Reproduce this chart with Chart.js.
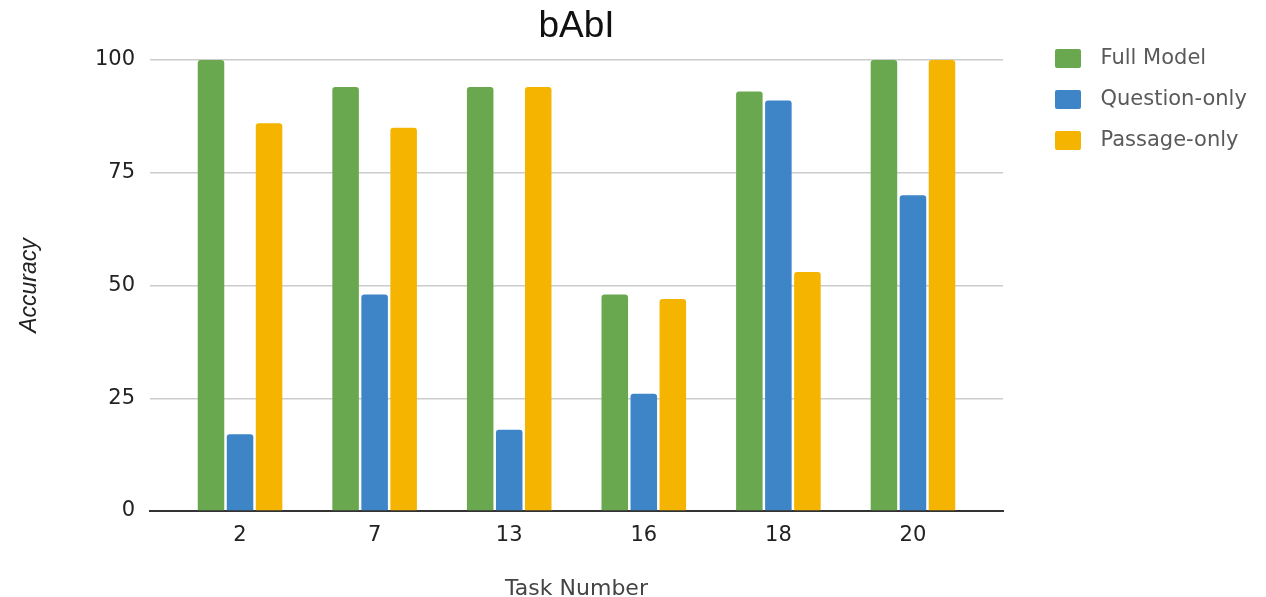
<!DOCTYPE html>
<html>
<head>
<meta charset="utf-8">
<title>bAbI</title>
<script src="https://cdn.jsdelivr.net/npm/chart.js@4.4.1/dist/chart.umd.min.js"></script>
<style>
  html, body { margin: 0; padding: 0; background: #ffffff; }
  #wrap { width: 1266px; height: 597px; position: relative; }
</style>
</head>
<body>
<div id="wrap"><canvas id="chart"></canvas></div>
<script>
// Task numbers shown along the x axis
const taskNumbers = ['2', '7', '13', '16', '18', '20'];

// Accuracy per task for each model variant
const fullModel    = [100, 94, 94, 48, 93, 100];
const questionOnly = [17, 48, 18, 26, 91, 70];
const passageOnly  = [86, 85, 94, 47, 53, 100];

// Value-axis ticks
const accuracyTicks = [0, 25, 50, 75, 100];

const seriesNames = ['Full Model', 'Question-only', 'Passage-only'];
const seriesColors = ['#6aa84f', '#3d85c6', '#f4b400'];

// Legend layout
const LEGEND_FONT = { family: '"DejaVu Sans", sans-serif', size: 21 };
const LEGEND_PAD = 20;
const SWATCH_W = 26, SWATCH_H = 19, SWATCH_INSET = 32, SWATCH_GAP = 9;
const SWATCH_SLOT = SWATCH_INSET + SWATCH_W + SWATCH_GAP;
const PLOT_RIGHT = 1003;
const CANVAS_W = 1266;

// Legend swatch: a rounded box placed inside a wider slot
function makeSwatch(color) {
  const c = document.createElement('canvas');
  c.width = SWATCH_SLOT;
  c.height = SWATCH_H;
  const g = c.getContext('2d');
  g.fillStyle = color;
  g.beginPath();
  if (g.roundRect) g.roundRect(SWATCH_INSET, 0, SWATCH_W, SWATCH_H, 2);
  else g.rect(SWATCH_INSET, 0, SWATCH_W, SWATCH_H);
  g.fill();
  return c;
}

// Width the legend will claim, so the plot area ends where wanted
function legendWidth() {
  const g = document.createElement('canvas').getContext('2d');
  g.font = LEGEND_FONT.size + 'px ' + LEGEND_FONT.family;
  const textW = Math.max(...seriesNames.map(n => g.measureText(n).width));
  return LEGEND_PAD + SWATCH_SLOT + LEGEND_FONT.size / 2 + textW + 10;
}

const toPoints = values => values.map((v, i) => ({ x: i, y: v }));

const datasets = [fullModel, questionOnly, passageOnly].map((values, k) => ({
  label: seriesNames[k],
  data: toPoints(values),
  backgroundColor: seriesColors[k],
  borderWidth: 0,
  borderRadius: 3,
  pointStyle: makeSwatch(seriesColors[k]),
  categoryPercentage: 0.647,
  barPercentage: 0.914
}));

new Chart(document.getElementById('chart'), {
  type: 'bar',
  data: { datasets },
  options: {
    responsive: true,
    maintainAspectRatio: false,
    animation: false,
    layout: { padding: { left: 0, top: 0, bottom: 0, right: Math.max(0, CANVAS_W - PLOT_RIGHT - legendWidth()) } },
    plugins: {
      tooltip: { enabled: false },
      title: {
        display: true,
        text: 'bAbI',
        fullSize: false,
        color: '#111111',
        font: { family: '"Liberation Sans", Arial, sans-serif', size: 37, weight: 'normal' },
        padding: { top: 5, bottom: 10.6 }
      },
      legend: {
        position: 'right',
        align: 'start',
        title: { display: true, text: '', padding: { top: 16, bottom: 0 }, font: { size: 10 } },
        labels: {
          usePointStyle: true,
          pointStyleWidth: SWATCH_SLOT,
          boxHeight: SWATCH_H,
          padding: LEGEND_PAD,
          color: '#5a5a5a',
          font: LEGEND_FONT
        }
      }
    },
    scales: {
      x: {
        type: 'linear',
        position: 'bottom',
        offset: false,
        min: -0.669,
        max: 5.669,
        afterFit: s => { s.height = 86; },
        grid: { display: false, drawTicks: false, offset: false },
        border: { display: true, color: '#333333', width: 2 },
        ticks: {
          stepSize: 1,
          includeBounds: false,
          autoSkip: false,
          maxRotation: 0,
          padding: 12,
          color: '#222222',
          font: { family: '"DejaVu Sans", sans-serif', size: 21 },
          callback: v => (taskNumbers[v] !== undefined ? taskNumbers[v] : '')
        },
        title: {
          display: true,
          text: 'Task Number',
          color: '#444444',
          font: { family: '"DejaVu Sans", sans-serif', size: 22, lineHeight: 1 },
          padding: { top: 0, bottom: -3 }
        }
      },
      y: {
        position: 'left',
        min: 0,
        max: 100,
        afterFit: s => { s.width = 150; },
        afterBuildTicks: s => { s.ticks = accuracyTicks.map(v => ({ value: v })); },
        grid: {
          drawTicks: false,
          color: c => (c.tick && c.tick.value === 0 ? 'rgba(0,0,0,0)' : '#cccccc'),
          lineWidth: 1.5
        },
        border: { display: false },
        ticks: {
          padding: 15,
          color: '#222222',
          font: { family: '"DejaVu Sans", sans-serif', size: 21 }
        },
        title: {
          display: true,
          text: 'Accuracy',
          color: '#222222',
          font: { family: '"Liberation Sans", Arial, sans-serif', size: 23, style: 'italic' },
          padding: { top: 16, bottom: 0 }
        }
      }
    }
  }
});
</script>
</body>
</html>
